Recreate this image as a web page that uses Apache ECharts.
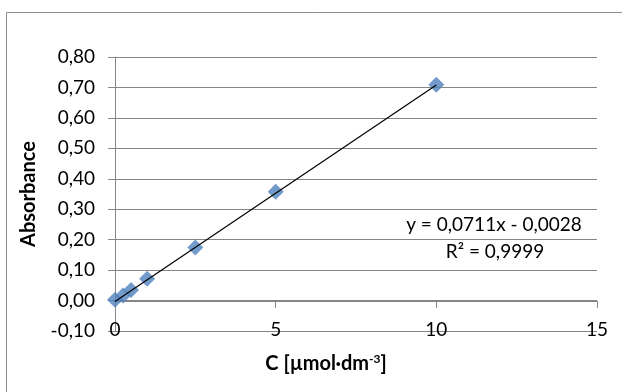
<!DOCTYPE html>
<html>
<head>
<meta charset="utf-8">
<script src="https://cdn.jsdelivr.net/npm/echarts@6/dist/echarts.min.js"></script>
<style>
  html, body { margin: 0; padding: 0; background: #fff; }
  #chart { width: 622px; height: 392px; }
</style>
</head>
<body>
<div id="chart"></div>
<script>
// measured points (C in µmol·dm-3, absorbance)
const conc = [0, 0.25, 0.5, 1, 2.5, 5, 10];
const absorb = [0.003, 0.017, 0.035, 0.072, 0.174, 0.357, 0.709];

// linear trendline as shown on the chart
const slope = 0.0711;
const intercept = -0.0028;
const trendX = [0, 10];

const xTicks = [0, 5, 10, 15];
const fmt = v => v.toFixed(2).replace(".", ",");

const chart = echarts.init(document.getElementById("chart"));
const font = "Lato, 'Open Sans', sans-serif";
const grey = "#868686";
const fs = 19;

const option = {
  animation: false,
  backgroundColor: "#fff",
  textStyle: { fontFamily: font },
  grid: { left: 115, right: 25, top: 57, bottom: 61 },
  xAxis: [
    {
      // labels sit on the bottom gridline, as in the original
      type: "value",
      position: "bottom",
      min: 0,
      max: 15,
      interval: 5,
      axisLine: { show: false },
      axisTick: { show: false },
      axisLabel: {
        margin: -11,
        color: "#000",
        fontSize: fs,
        fontFamily: font,
        formatter: v => (xTicks.includes(v) ? String(v) : "")
      },
      splitLine: { show: false }
    },
    {
      // axis line with ticks along y = 0
      type: "value",
      position: "top",
      offset: -244,
      min: 0,
      max: 15,
      interval: 5,
      axisLine: { show: true, onZero: false, lineStyle: { color: grey, width: 1 } },
      axisTick: { show: true, inside: true, length: 7, lineStyle: { color: grey } },
      axisLabel: { show: false },
      splitLine: { show: false }
    }
  ],
  yAxis: {
    type: "value",
    min: -0.1,
    max: 0.8,
    interval: 0.1,
    axisLine: { show: true, onZero: false, lineStyle: { color: grey } },
    axisTick: { show: true, length: 7, lineStyle: { color: grey } },
    axisLabel: { margin: 20, color: "#000", fontSize: fs, fontFamily: font, formatter: fmt },
    splitLine: { lineStyle: { color: grey, width: 1 } }
  },
  series: [
    {
      name: "Trend",
      type: "line",
      data: trendX.map(x => [x, slope * x + intercept]),
      showSymbol: false,
      lineStyle: { color: "#000", width: 1.2 },
      z: 3
    },
    {
      name: "Absorbance",
      type: "scatter",
      data: conc.map((c, i) => [c, absorb[i]]),
      symbol: "diamond",
      symbolSize: 16,
      itemStyle: { color: "#4f81bd" },
      z: 2
    }
  ],
  graphic: [
    {
      type: "rect",
      shape: { x: 6.5, y: 12.5, width: 700, height: 500 },
      style: { fill: "none", stroke: "#8c8c8c", lineWidth: 1 },
      silent: true,
      z: -10
    },
    {
      type: "text",
      x: 29,
      y: 194,
      rotation: Math.PI / 2,
      style: {
        text: "Absorbance",
        font: "bold 20px " + font,
        fill: "#000",
        align: "center",
        verticalAlign: "middle"
      }
    },
    {
      type: "text",
      x: 326,
      y: 364,
      style: {
        text: "C [µmol·dm{sup|-3}]",
        font: "bold 20px " + font,
        fill: "#000",
        align: "center",
        verticalAlign: "middle",
        rich: {
          sup: { font: "bold 12px " + font, fill: "#000", verticalAlign: "top", padding: [0, 0, 9, 0] }
        }
      }
    },
    {
      type: "text",
      x: 494,
      y: 225,
      style: {
        text: "y = 0,0711x - 0,0028",
        font: fs + "px " + font,
        fill: "#000",
        align: "center",
        verticalAlign: "middle"
      }
    },
    {
      type: "text",
      x: 495,
      y: 252,
      style: {
        text: "R² = 0,9999",
        font: fs + "px " + font,
        fill: "#000",
        align: "center",
        verticalAlign: "middle"
      }
    }
  ]
};

chart.setOption(option);
</script>
</body>
</html>
